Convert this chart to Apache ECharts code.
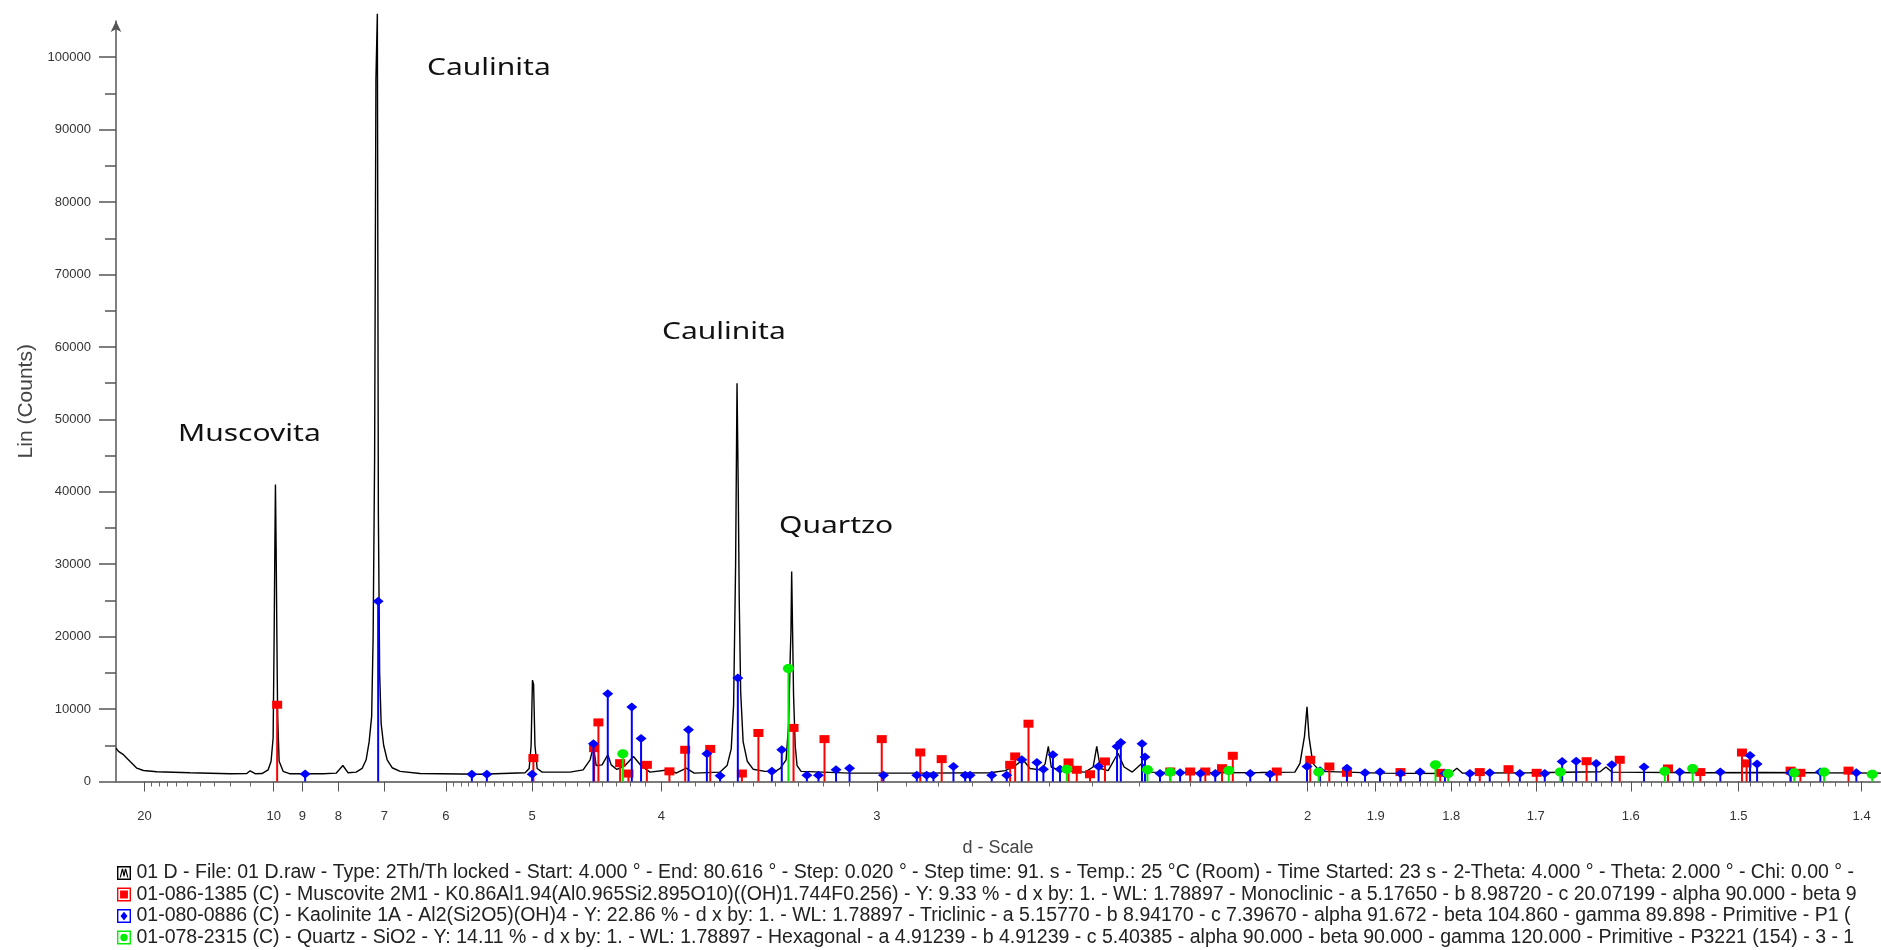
<!DOCTYPE html>
<html><head><meta charset="utf-8">
<script src="https://cdn.jsdelivr.net/npm/echarts@6/dist/echarts.min.js"></script>
<style>html,body{margin:0;padding:0;background:#fff}#c{width:1881px;height:950px}</style>
</head><body><div id="c"></div>
<script>
// ---- measured diffractogram (d in Angstrom, Lin counts) ----
const traceD = [25.63,25.02,23.87,22.48,21.24,20.15,18.24,14.77,12.02,11.16,
11.0,10.77,10.47,10.22,10.10,10.02,9.981,9.954,9.931,9.904,
9.878,9.848,9.792,9.646,9.40,8.393,8.053,7.888,7.763,7.581,
7.450,7.365,7.302,7.251,7.221,7.191,7.165,7.137,7.117,7.092,
7.063,7.015,6.949,6.857,6.714,6.383,5.559,5.069,5.029,5.010,
4.997,4.986,4.973,4.952,4.905,4.658,4.551,4.496,4.470,4.449,
4.404,4.361,4.337,4.296,4.238,4.181,4.125,4.071,3.951,3.911,
3.852,3.807,3.667,3.631,3.610,3.598,3.588,3.581,3.575,3.570,
3.563,3.551,3.531,3.503,3.447,3.401,3.379,3.353,3.342,3.335,
3.332,3.329,3.325,3.321,3.314,3.306,3.289,3.096,2.856,2.651,
2.611,2.585,2.565,2.547,2.522,2.510,2.502,2.495,2.474,2.416,
2.398,2.390,2.382,2.365,2.352,2.344,2.331,2.314,2.294,2.282,
2.181,2.076,2.020,2.012,2.005,2.001,1.998,1.992,1.981,1.894,
1.801,1.793,1.786,1.706,1.631,1.625,1.619,1.534,1.481,1.432,
1.383];
const traceCounts = [4600,4150,3700,2770,1840,1520,1340,1200,1060,1100,
1480,1080,1100,1600,2800,6000,20000,32000,41000,32000,
20600,9000,2800,1400,1060,1060,1150,2210,1200,1300,
1800,3000,5500,9000,20000,45000,97000,106000,37000,15000,
8000,5000,3000,1900,1400,1100,1000,1200,1800,5000,
14000,13400,5000,1800,1300,1300,1600,3000,4840,2200,
2300,3700,2300,1660,2200,3460,2070,1300,1620,1150,
1840,1150,1300,2200,4500,10600,30000,55000,40500,25000,
12400,5500,2800,1700,1400,1400,1800,3000,8000,17500,
20700,29000,20700,12000,5000,2200,1400,1150,1150,1200,
1500,2200,3000,1800,1600,2400,4840,2000,1500,1300,
2000,4840,1800,1500,3000,3900,2000,1300,2530,1300,
1200,1250,1300,2500,6200,10300,6200,2500,1400,1150,
1100,1840,1150,1200,1350,2000,1300,1200,1250,1200,
1150];

// ---- reference patterns (stick positions d, heights in counts) ----
const muscD = [9.866,4.988,4.465,4.432,4.273,4.215,4.092,3.951,3.858,3.719,3.557,3.478,3.321,3.194,2.983,2.856,2.790,2.598,2.585,2.551,2.454,2.435,2.405,2.372,2.238,2.200,2.172,2.142,2.123,2.049,1.996,1.967,1.941,1.866,1.814,1.765,1.731,1.699,1.645,1.611,1.564,1.534,1.497,1.493,1.456,1.448,1.410];
const muscCounts = [10600,3230,4600,8160,2530,1100,2300,1400,4380,4500,1100,6700,7400,5850,5850,4010,3090,2300,3460,7980,2630,1620,1000,2770,1380,1380,1380,1840,3550,1380,3000,2070,1200,1300,1200,1300,1700,1200,2800,3000,1800,1300,4000,2500,1500,1200,1500];

const kaolD = [8.914,7.121,5.660,5.480,5.000,4.470,4.362,4.192,4.130,3.839,3.737,3.667,3.577,3.416,3.372,3.265,3.218,3.149,3.098,2.977,2.867,2.836,2.815,2.755,2.721,2.707,2.647,2.607,2.568,2.530,2.514,2.491,2.474,2.386,2.346,2.338,2.294,2.288,2.258,2.219,2.181,2.154,2.093,2.060,2.001,1.981,1.941,1.915,1.894,1.866,1.840,1.808,1.777,1.753,1.718,1.690,1.671,1.656,1.635,1.619,1.587,1.553,1.516,1.490,1.484,1.456,1.432,1.404];
const kaolCounts = [1050,24900,1000,1000,1000,5210,12100,10300,5950,7150,3830,800,14300,1400,4380,850,850,1620,1840,850,850,850,850,2070,850,850,850,850,3000,2630,1700,3690,1700,2070,4840,5390,5210,3370,1100,1200,1100,1100,1100,1000,2070,1500,1840,1200,1300,1100,1300,1100,1100,1200,1100,1100,2770,2800,2500,2300,2000,1300,1300,3600,2400,1200,1300,1200];

const qtzD = [4.254,3.343,2.458,2.283,2.238,2.130,1.983,1.820,1.804,1.673,1.567,1.541,1.453,1.429,1.392];
const qtzCounts = [3830,15600,1700,1620,1300,1520,1300,2300,1100,1300,1400,1800,1200,1300,1000];

// ---- axis ticks ----
const dTickLabels = [20,10,9,8,7,6,5,4,3,2,1.9,1.8,1.7,1.6,1.5,1.4];
const dMinorTicks = [19,18,17,16,15,14,13,12,11,5.9,5.8,5.7,5.6,5.5,5.4,5.3,5.2,5.1,
4.9,4.8,4.7,4.6,4.5,4.4,4.3,4.2,4.1,3.9,3.8,3.7,3.6,3.5,3.4,3.3,3.2,3.1,
2.9,2.8,2.7,2.6,2.5,2.4,2.3,2.2,2.1,
1.99,1.98,1.97,1.96,1.95,1.94,1.93,1.92,1.91,1.89,1.88,1.87,1.86,1.85,1.84,1.83,1.82,1.81,
1.79,1.78,1.77,1.76,1.75,1.74,1.73,1.72,1.71,1.69,1.68,1.67,1.66,1.65,1.64,1.63,1.62,1.61,
1.59,1.58,1.57,1.56,1.55,1.54,1.53,1.52,1.51,1.49,1.48,1.47,1.46,1.45,1.44,1.43,1.42,1.41];
const yTickLabels = [0,10000,20000,30000,40000,50000,60000,70000,80000,90000,100000];
const yMinorTicks = [5000,15000,25000,35000,45000,55000,65000,75000,85000,95000];

const legendNames = [
'01 D - File: 01 D.raw - Type: 2Th/Th locked - Start: 4.000 ° - End: 80.616 ° - Step: 0.020 ° - Step time: 91. s - Temp.: 25 °C (Room) - Time Started: 23 s - 2-Theta: 4.000 ° - Theta: 2.000 ° - Chi: 0.00 ° -',
'01-086-1385 (C) - Muscovite 2M1 - K0.86Al1.94(Al0.965Si2.895O10)((OH)1.744F0.256) - Y: 9.33 % - d x by: 1. - WL: 1.78897 - Monoclinic - a 5.17650 - b 8.98720 - c 20.07199 - alpha 90.000 - beta 9',
'01-080-0886 (C) - Kaolinite 1A - Al2(Si2O5)(OH)4 - Y: 22.86 % - d x by: 1. - WL: 1.78897 - Triclinic - a 5.15770 - b 8.94170 - c 7.39670 - alpha 91.672 - beta 104.860 - gamma 89.898 - Primitive - P1 (',
'01-078-2315 (C) - Quartz - SiO2 - Y: 14.11 % - d x by: 1. - WL: 1.78897 - Hexagonal - a 4.91239 - b 4.91239 - c 5.40385 - alpha 90.000 - beta 90.000 - gamma 120.000 - Primitive - P3221 (154) - 3 - 1'
];
const annotationTexts = ['Muscovita','Caulinita','Caulinita','Quartzo'];

// ---- build ----
const inv = d => 1 / d;
const xMin = 1 / 25.63, xMax = 0.7214;
const fmtD = v => String(Math.round(100 / v) / 100);

function stickSeries(name, dArr, cArr, color, shape) {
  return {
    type: 'custom', name: name, z: 4, animation: false,
    itemStyle: { color: color },
    encode: { x: 0, y: 1 },
    data: dArr.map((d, i) => [inv(d), cArr[i]]),
    renderItem: function (params, api) {
      const x = api.value(0), y = api.value(1);
      const b = api.coord([x, 0]), t = api.coord([x, y]);
      const kids = [{ type: 'line', shape: { x1: b[0], y1: b[1], x2: t[0], y2: t[1] }, style: { stroke: color, lineWidth: 2 } }];
      if (shape === 'square') kids.push({ type: 'rect', shape: { x: t[0] - 5, y: t[1] - 4, width: 10, height: 8 }, style: { fill: color } });
      else if (shape === 'diamond') kids.push({ type: 'polygon', shape: { points: [[t[0], t[1] - 4.5], [t[0] + 5.5, t[1]], [t[0], t[1] + 4.5], [t[0] - 5.5, t[1]]] }, style: { fill: color } });
      else kids.push({ type: 'ellipse', shape: { cx: t[0], cy: t[1], rx: 5.5, ry: 4.5 }, style: { fill: color } });
      return { type: 'group', children: kids };
    }
  };
}

const ring = 'M0,0 L16,0 L16,16 L0,16 Z M1.6,1.6 L1.6,14.4 L14.4,14.4 L14.4,1.6 Z ';
const icons = [
  'path://' + ring + 'M3,13 L5.5,3 L7,3 L8,8 L9,3 L10.5,3 L13,13 L11.6,13 L9.8,6 L8.6,12 L7.4,12 L6.2,6 L4.4,13 Z',
  'path://' + ring + 'M3.5,3.5 L12.5,3.5 L12.5,12.5 L3.5,12.5 Z',
  'path://' + ring + 'M8,3 L12,8 L8,13 L4,8 Z',
  'path://' + ring + 'M8,3.8 A4.2,4.2 0 1 1 7.99,3.8 Z'
];

const annPos = [[178, 434], [427, 68], [662, 332], [779, 526]];

const chart = echarts.init(document.getElementById('c'));
chart.setOption({
  animation: false,
  backgroundColor: '#ffffff',
  grid: { left: 116, right: 1, top: 21, bottom: 168.5, containLabel: false },
  legend: {
    orient: 'vertical', left: 117, top: 863, padding: 0, itemGap: 1.5,
    itemWidth: 15, itemHeight: 14, selectedMode: false,
    textStyle: { fontFamily: 'Liberation Sans', fontSize: 19.5, color: '#222' },
    data: legendNames.map((n, i) => ({ name: n, icon: icons[i] }))
  },
  xAxis: [{
    type: 'value', min: xMin, max: xMax, position: 'bottom',
    axisLine: { lineStyle: { color: '#7a7a7a', width: 2 } },
    axisTick: { customValues: dTickLabels.map(inv), length: 10, lineStyle: { color: '#555', width: 1 } },
    axisLabel: { customValues: dTickLabels.map(inv), formatter: fmtD, fontFamily: 'Liberation Sans', fontSize: 13, color: '#333', margin: 28 },
    splitLine: { show: false },
    name: 'd - Scale', nameLocation: 'middle', nameGap: 58,
    nameTextStyle: { fontFamily: 'Liberation Sans', fontSize: 18, color: '#444' }
  }, {
    type: 'value', min: xMin, max: xMax, position: 'bottom',
    axisLine: { show: false },
    axisTick: { customValues: dMinorTicks.map(inv), length: 5, lineStyle: { color: '#666', width: 1 } },
    axisLabel: { show: false }, splitLine: { show: false }
  }],
  yAxis: [{
    type: 'value', min: 0, max: 105000, position: 'left',
    axisLine: { show: true, symbol: ['none', 'arrow'], symbolSize: [8, 11], lineStyle: { color: '#555', width: 1.5 } },
    axisTick: { customValues: yTickLabels, length: 17, lineStyle: { color: '#555', width: 1.5 } },
    axisLabel: { customValues: yTickLabels, formatter: v => String(v), fontFamily: 'Liberation Sans', fontSize: 13, color: '#333', margin: 25 },
    splitLine: { show: false },
    name: 'Lin (Counts)', nameLocation: 'middle', nameGap: 74,
    nameTextStyle: { fontFamily: 'Liberation Sans', fontSize: 21, color: '#444' }
  }, {
    type: 'value', min: 0, max: 105000, position: 'left',
    axisLine: { show: false },
    axisTick: { customValues: yMinorTicks, length: 11, lineStyle: { color: '#555', width: 1.5 } },
    axisLabel: { show: false }, splitLine: { show: false }
  }],
  graphic: annotationTexts.map((t, i) => ({
    type: 'text', x: annPos[i][0], y: annPos[i][1], scaleX: 1.25, z: 10,
    style: { text: t, fontFamily: 'Noto Sans', fontSize: 24, fill: '#111', textVerticalAlign: 'middle', verticalAlign: 'middle' }
  })),
  series: [
    {
      type: 'line', name: legendNames[0], z: 3, clip: false, showSymbol: false, symbol: 'none',
      itemStyle: { color: '#000' },
      lineStyle: { color: '#000', width: 1.4 },
      data: traceD.map((d, i) => [inv(d), traceCounts[i]])
    },
    stickSeries(legendNames[1], muscD, muscCounts, '#ff0000', 'square'),
    stickSeries(legendNames[2], kaolD, kaolCounts, '#0000ff', 'diamond'),
    stickSeries(legendNames[3], qtzD, qtzCounts, '#00ee00', 'circle')
  ]
});
</script></body></html>
